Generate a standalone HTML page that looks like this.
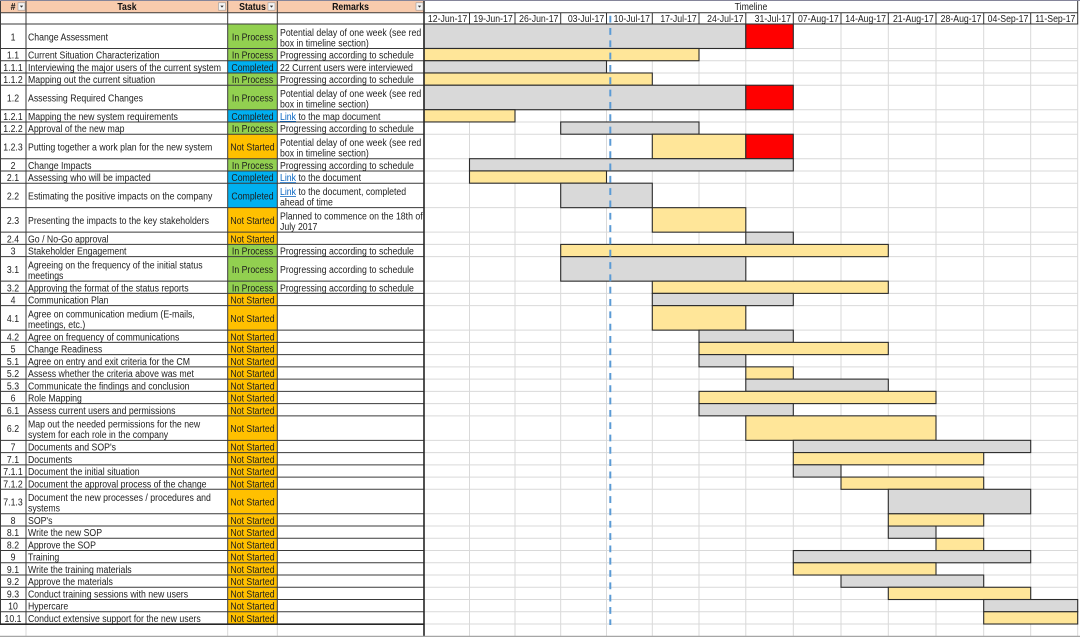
<!DOCTYPE html>
<html><head><meta charset="utf-8"><style>
html,body{margin:0;padding:0;background:#fff;width:1080px;height:637px;overflow:hidden}
svg{display:block}
text{font-family:"Liberation Sans",Arial,sans-serif;font-size:10.4px;fill:#1e1e1e}
.hd text{font-weight:bold;fill:#111}
.g{fill:#D9D9D9;stroke:#2b2b2b;stroke-width:1.1}
.y{fill:#FFE699;stroke:#2b2b2b;stroke-width:1.1}
.r{fill:#FF0000;stroke:#2b2b2b;stroke-width:1.1}
.lnk{fill:#0563C1}
</style></head><body>
<svg width="1080" height="637" viewBox="0 0 1080 637" xmlns="http://www.w3.org/2000/svg">
<rect x="0" y="0" width="1080" height="637" fill="#fff"/>
<!-- header fill -->
<rect x="0" y="0" width="424" height="12.7" fill="#F8CBAD"/>
<!-- status fills -->
<g fill="#92D050">
<rect x="227.7" y="24" width="49.6" height="24.49"/>
<rect x="227.7" y="48.49" width="49.6" height="12.25"/>
<rect x="227.7" y="72.98" width="49.6" height="12.25"/>
<rect x="227.7" y="85.23" width="49.6" height="24.49"/>
<rect x="227.7" y="121.96" width="49.6" height="12.25"/>
<rect x="227.7" y="158.7" width="49.6" height="12.24"/>
<rect x="227.7" y="244.41" width="49.6" height="12.25"/>
<rect x="227.7" y="256.66" width="49.6" height="24.49"/>
<rect x="227.7" y="281.15" width="49.6" height="12.24"/>
</g>
<g fill="#00B0F0">
<rect x="227.7" y="60.74" width="49.6" height="12.24"/>
<rect x="227.7" y="109.72" width="49.6" height="12.24"/>
<rect x="227.7" y="170.94" width="49.6" height="12.25"/>
<rect x="227.7" y="183.19" width="49.6" height="24.49"/>
</g>
<g fill="#FFC000">
<rect x="227.7" y="134.21" width="49.6" height="24.49"/>
<rect x="227.7" y="207.68" width="49.6" height="24.49"/>
<rect x="227.7" y="232.17" width="49.6" height="12.24"/>
<rect x="227.7" y="293.39" width="49.6" height="330.62"/>
</g>

<!-- timeline light grid -->
<g stroke="#D9D9D9" stroke-width="1" fill="none">
<path d="M469.5 24V637M515 24V637M560.7 24V637M606.5 24V637M652.3 24V637M699 24V637M745.8 24V637M793.3 24V637M841 24V637M888.3 24V637M936 24V637M983.7 24V637M1030.7 24V637M1077.7 24V637"/>
<path d="M424 48.49H1077.7M424 60.74H1077.7M424 72.98H1077.7M424 85.23H1077.7M424 109.72H1077.7M424 121.96H1077.7M424 134.21H1077.7M424 158.7H1077.7M424 170.94H1077.7M424 183.19H1077.7M424 207.68H1077.7M424 232.17H1077.7M424 244.41H1077.7M424 256.66H1077.7M424 281.15H1077.7M424 293.39H1077.7M424 305.64H1077.7M424 330.13H1077.7M424 342.37H1077.7M424 354.62H1077.7M424 366.86H1077.7M424 379.11H1077.7M424 391.35H1077.7M424 403.6H1077.7M424 415.84H1077.7M424 440.33H1077.7M424 452.58H1077.7M424 464.82H1077.7M424 477.07H1077.7M424 489.31H1077.7M424 513.8H1077.7M424 526.05H1077.7M424 538.29H1077.7M424 550.54H1077.7M424 562.78H1077.7M424 575.03H1077.7M424 587.27H1077.7M424 599.52H1077.7M424 611.76H1077.7M424 624.01H1077.7"/>
<path d="M26 624V637M227.7 624V637M277.3 624V637"/>
</g>

<!-- bars -->
<rect class="g" x="424" y="24" width="321.8" height="24.49"/>
<rect class="r" x="745.8" y="24" width="47.5" height="24.49"/>
<rect class="y" x="424" y="48.49" width="275" height="12.25"/>
<rect class="g" x="424" y="60.74" width="182.5" height="12.24"/>
<rect class="y" x="424" y="72.98" width="228.3" height="12.25"/>
<rect class="g" x="424" y="85.23" width="321.8" height="24.49"/>
<rect class="r" x="745.8" y="85.23" width="47.5" height="24.49"/>
<rect class="y" x="424" y="109.72" width="91" height="12.24"/>
<rect class="g" x="560.7" y="121.96" width="138.3" height="12.25"/>
<rect class="y" x="652.3" y="134.21" width="93.5" height="24.49"/>
<rect class="r" x="745.8" y="134.21" width="47.5" height="24.49"/>
<rect class="g" x="469.5" y="158.7" width="323.8" height="12.24"/>
<rect class="y" x="469.5" y="170.94" width="137" height="12.25"/>
<rect class="g" x="560.7" y="183.19" width="91.6" height="24.49"/>
<rect class="y" x="652.3" y="207.68" width="93.5" height="24.49"/>
<rect class="g" x="745.8" y="232.17" width="47.5" height="12.24"/>
<rect class="y" x="560.7" y="244.41" width="327.6" height="12.25"/>
<rect class="g" x="560.7" y="256.66" width="185.1" height="24.49"/>
<rect class="y" x="652.3" y="281.15" width="236" height="12.24"/>
<rect class="g" x="652.3" y="293.39" width="141" height="12.25"/>
<rect class="y" x="652.3" y="305.64" width="93.5" height="24.49"/>
<rect class="g" x="699" y="330.13" width="94.3" height="12.24"/>
<rect class="y" x="699" y="342.37" width="189.3" height="12.25"/>
<rect class="g" x="699" y="354.62" width="46.8" height="12.24"/>
<rect class="y" x="745.8" y="366.86" width="47.5" height="12.25"/>
<rect class="g" x="745.8" y="379.11" width="142.5" height="12.24"/>
<rect class="y" x="699" y="391.35" width="237" height="12.25"/>
<rect class="g" x="699" y="403.6" width="94.3" height="12.24"/>
<rect class="y" x="745.8" y="415.84" width="190.2" height="24.49"/>
<rect class="g" x="793.3" y="440.33" width="237.4" height="12.25"/>
<rect class="y" x="793.3" y="452.58" width="190.4" height="12.24"/>
<rect class="g" x="793.3" y="464.82" width="47.7" height="12.25"/>
<rect class="y" x="841" y="477.07" width="142.7" height="12.24"/>
<rect class="g" x="888.3" y="489.31" width="142.4" height="24.49"/>
<rect class="y" x="888.3" y="513.8" width="95.4" height="12.25"/>
<rect class="g" x="888.3" y="526.05" width="47.7" height="12.24"/>
<rect class="y" x="936" y="538.29" width="47.7" height="12.25"/>
<rect class="g" x="793.3" y="550.54" width="237.4" height="12.24"/>
<rect class="y" x="793.3" y="562.78" width="142.7" height="12.25"/>
<rect class="g" x="841" y="575.03" width="142.7" height="12.24"/>
<rect class="y" x="888.3" y="587.27" width="142.4" height="12.25"/>
<rect class="g" x="983.7" y="599.52" width="94" height="12.24"/>
<rect class="y" x="983.7" y="611.76" width="94" height="12.25"/>

<!-- today dashed line -->
<line x1="610.3" y1="15.7" x2="610.3" y2="625" stroke="#5B9BD5" stroke-width="2" stroke-dasharray="6.8 5.52"/>

<!-- left table dark lines -->
<g stroke="#3a3a3a" stroke-width="1" fill="none">
<path d="M0 12.7H424M0 24H424M0 48.49H424M0 60.74H424M0 72.98H424M0 85.23H424M0 109.72H424M0 121.96H424M0 134.21H424M0 158.7H424M0 170.94H424M0 183.19H424M0 207.68H424M0 232.17H424M0 244.41H424M0 256.66H424M0 281.15H424M0 293.39H424M0 305.64H424M0 330.13H424M0 342.37H424M0 354.62H424M0 366.86H424M0 379.11H424M0 391.35H424M0 403.6H424M0 415.84H424M0 440.33H424M0 452.58H424M0 464.82H424M0 477.07H424M0 489.31H424M0 513.8H424M0 526.05H424M0 538.29H424M0 550.54H424M0 562.78H424M0 575.03H424M0 587.27H424M0 599.52H424M0 611.76H424"/>
<path d="M26 0V624M227.7 0V624M277.3 0V624M0.5 0V624"/>
</g>
<path d="M0 624.2H424.8M424 0V637" stroke="#262626" stroke-width="1.6" fill="none"/>

<!-- timeline header frames -->
<g stroke="#333" stroke-width="1" fill="none">
<rect x="424" y="0.5" width="653.7" height="23.5"/>
<path d="M424 12.7H1077.7M469.5 12.7V24M515 12.7V24M560.7 12.7V24M606.5 12.7V24M652.3 12.7V24M699 12.7V24M745.8 12.7V24M793.3 12.7V24M841 12.7V24M888.3 12.7V24M936 12.7V24M983.7 12.7V24M1030.7 12.7V24"/>
</g>
<!-- outer frame lines -->
<path d="M0 0.5H1080" stroke="#85859a" stroke-width="1"/>
<path d="M0 636.4H1080" stroke="#a6a6a6" stroke-width="1.2"/>

<!-- dropdown buttons -->
<g>
<rect x="18" y="2.8" width="7" height="7.4" fill="#F4F4F4" stroke="#9a9a9a" stroke-width="0.6"/>
<path d="M19.8 5.6h3.4l-1.7 2z" fill="#333"/>
<rect x="218.5" y="2.8" width="7" height="7.4" fill="#F4F4F4" stroke="#9a9a9a" stroke-width="0.6"/>
<path d="M220.3 5.6h3.4l-1.7 2z" fill="#333"/>
<rect x="268" y="2.8" width="7" height="7.4" fill="#F4F4F4" stroke="#9a9a9a" stroke-width="0.6"/>
<path d="M269.8 5.6h3.4l-1.7 2z" fill="#333"/>
<rect x="416" y="2.8" width="7" height="7.4" fill="#F4F4F4" stroke="#9a9a9a" stroke-width="0.6"/>
<path d="M417.8 5.6h3.4l-1.7 2z" fill="#333"/>
</g>

<!-- header text -->
<g class="hd" text-anchor="middle">
<text transform="translate(13,10.2) scale(0.84,1)">#</text>
<text transform="translate(127,10.2) scale(0.84,1)">Task</text>
<text transform="translate(252.5,10.2) scale(0.84,1)">Status</text>
<text transform="translate(350.5,10.2) scale(0.84,1)">Remarks</text>
</g>
<text transform="translate(751,10.2) scale(0.84,1)" text-anchor="middle">Timeline</text>

<!-- dates -->
<g text-anchor="end">
<text transform="translate(467.2,21.8) scale(0.84,1)">12-Jun-17</text>
<text transform="translate(512.7,21.8) scale(0.84,1)">19-Jun-17</text>
<text transform="translate(558.4,21.8) scale(0.84,1)">26-Jun-17</text>
<text transform="translate(604.2,21.8) scale(0.84,1)">03-Jul-17</text>
<text transform="translate(650,21.8) scale(0.84,1)">10-Jul-17</text>
<text transform="translate(696.7,21.8) scale(0.84,1)">17-Jul-17</text>
<text transform="translate(743.5,21.8) scale(0.84,1)">24-Jul-17</text>
<text transform="translate(791,21.8) scale(0.84,1)">31-Jul-17</text>
<text transform="translate(838.7,21.8) scale(0.84,1)">07-Aug-17</text>
<text transform="translate(886,21.8) scale(0.84,1)">14-Aug-17</text>
<text transform="translate(933.7,21.8) scale(0.84,1)">21-Aug-17</text>
<text transform="translate(981.4,21.8) scale(0.84,1)">28-Aug-17</text>
<text transform="translate(1028.4,21.8) scale(0.84,1)">04-Sep-17</text>
<text transform="translate(1075.4,21.8) scale(0.84,1)">11-Sep-17</text>
</g>

<!-- # column -->
<g transform="translate(13,0) scale(0.84,1)" text-anchor="middle">
<text y="40.4">1</text>
<text y="58.69">1.1</text>
<text y="70.94">1.1.1</text>
<text y="83.18">1.1.2</text>
<text y="101.63">1.2</text>
<text y="119.92">1.2.1</text>
<text y="132.16">1.2.2</text>
<text y="150.61">1.2.3</text>
<text y="168.9">2</text>
<text y="181.14">2.1</text>
<text y="199.59">2.2</text>
<text y="224.08">2.3</text>
<text y="242.37">2.4</text>
<text y="254.61">3</text>
<text y="273.06">3.1</text>
<text y="291.35">3.2</text>
<text y="303.59">4</text>
<text y="322.04">4.1</text>
<text y="340.33">4.2</text>
<text y="352.57">5</text>
<text y="364.82">5.1</text>
<text y="377.06">5.2</text>
<text y="389.31">5.3</text>
<text y="401.55">6</text>
<text y="413.8">6.1</text>
<text y="432.24">6.2</text>
<text y="450.53">7</text>
<text y="462.78">7.1</text>
<text y="475.02">7.1.1</text>
<text y="487.27">7.1.2</text>
<text y="505.71">7.1.3</text>
<text y="524">8</text>
<text y="536.25">8.1</text>
<text y="548.49">8.2</text>
<text y="560.74">9</text>
<text y="572.98">9.1</text>
<text y="585.23">9.2</text>
<text y="597.47">9.3</text>
<text y="609.72">10</text>
<text y="621.96">10.1</text>
</g>

<!-- Task column -->
<g transform="translate(28,0) scale(0.84,1)">
<text y="40.4">Change Assessment</text>
<text y="58.69">Current Situation Characterization</text>
<text y="70.94">Interviewing the major users of the current system</text>
<text y="83.18">Mapping out the current situation</text>
<text y="101.63">Assessing Required Changes</text>
<text y="119.92">Mapping the new system requirements</text>
<text y="132.16">Approval of the new map</text>
<text y="150.61">Putting together a work plan for the new system</text>
<text y="168.9">Change Impacts</text>
<text y="181.14">Assessing who will be impacted</text>
<text y="199.59">Estimating the positive impacts on the company</text>
<text y="224.08">Presenting the impacts to the key stakeholders</text>
<text y="242.37">Go / No-Go approval</text>
<text y="254.61">Stakeholder Engagement</text>
<text y="268.46">Agreeing on the frequency of the initial status</text>
<text y="279.06">meetings</text>
<text y="291.35">Approving the format of the status reports</text>
<text y="303.59">Communication Plan</text>
<text y="317.44">Agree on communication medium (E-mails,</text>
<text y="328.04">meetings, etc.)</text>
<text y="340.33">Agree on frequency of communications</text>
<text y="352.57">Change Readiness</text>
<text y="364.82">Agree on entry and exit criteria for the CM</text>
<text y="377.06">Assess whether the criteria above was met</text>
<text y="389.31">Communicate the findings and conclusion</text>
<text y="401.55">Role Mapping</text>
<text y="413.8">Assess current users and permissions</text>
<text y="427.64">Map out the needed permissions for the new</text>
<text y="438.24">system for each role in the company</text>
<text y="450.53">Documents and SOP's</text>
<text y="462.78">Documents</text>
<text y="475.02">Document the initial situation</text>
<text y="487.27">Document the approval process of the change</text>
<text y="501.11">Document the new processes / procedures and</text>
<text y="511.71">systems</text>
<text y="524">SOP's</text>
<text y="536.25">Write the new SOP</text>
<text y="548.49">Approve the SOP</text>
<text y="560.74">Training</text>
<text y="572.98">Write the training materials</text>
<text y="585.23">Approve the materials</text>
<text y="597.47">Conduct training sessions with new users</text>
<text y="609.72">Hypercare</text>
<text y="621.96">Conduct extensive support for the new users</text>
</g>

<!-- Status column -->
<g transform="translate(252.5,0) scale(0.84,1)" text-anchor="middle">
<text y="40.4">In Process</text>
<text y="58.69">In Process</text>
<text y="70.94" fill="#14284a">Completed</text>
<text y="83.18">In Process</text>
<text y="101.63">In Process</text>
<text y="119.92" fill="#14284a">Completed</text>
<text y="132.16">In Process</text>
<text y="150.61">Not Started</text>
<text y="168.9">In Process</text>
<text y="181.14" fill="#14284a">Completed</text>
<text y="199.59" fill="#14284a">Completed</text>
<text y="224.08">Not Started</text>
<text y="242.37">Not Started</text>
<text y="254.61">In Process</text>
<text y="273.06">In Process</text>
<text y="291.35">In Process</text>
<text y="303.59">Not Started</text>
<text y="322.04">Not Started</text>
<text y="340.33">Not Started</text>
<text y="352.57">Not Started</text>
<text y="364.82">Not Started</text>
<text y="377.06">Not Started</text>
<text y="389.31">Not Started</text>
<text y="401.55">Not Started</text>
<text y="413.8">Not Started</text>
<text y="432.24">Not Started</text>
<text y="450.53">Not Started</text>
<text y="462.78">Not Started</text>
<text y="475.02">Not Started</text>
<text y="487.27">Not Started</text>
<text y="505.71">Not Started</text>
<text y="524">Not Started</text>
<text y="536.25">Not Started</text>
<text y="548.49">Not Started</text>
<text y="560.74">Not Started</text>
<text y="572.98">Not Started</text>
<text y="585.23">Not Started</text>
<text y="597.47">Not Started</text>
<text y="609.72">Not Started</text>
<text y="621.96">Not Started</text>
</g>

<!-- Remarks column -->
<g transform="translate(280,0) scale(0.84,1)">
<text y="35.8">Potential delay of one week (see red</text>
<text y="46.4">box in timeline section)</text>
<text y="58.69">Progressing according to schedule</text>
<text y="70.94">22 Current users were interviewed</text>
<text y="83.18">Progressing according to schedule</text>
<text y="97.03">Potential delay of one week (see red</text>
<text y="107.63">box in timeline section)</text>
<text y="119.92"><tspan class="lnk">Link</tspan> to the map document</text>
<text y="132.16">Progressing according to schedule</text>
<text y="146.01">Potential delay of one week (see red</text>
<text y="156.61">box in timeline section)</text>
<text y="168.9">Progressing according to schedule</text>
<text y="181.14"><tspan class="lnk">Link</tspan> to the document</text>
<text y="194.99"><tspan class="lnk">Link</tspan> to the document, completed</text>
<text y="205.59">ahead of time</text>
<text y="219.48">Planned to commence on the 18th of</text>
<text y="230.08">July 2017</text>
<text y="254.61">Progressing according to schedule</text>
<text y="273.06">Progressing according to schedule</text>
<text y="291.35">Progressing according to schedule</text>
</g>
<!-- link underlines -->
<path d="M280 121.4H296M280 182.6H296M280 196.5H296" stroke="#0563C1" stroke-width="0.8"/>
</svg>
</body></html>
